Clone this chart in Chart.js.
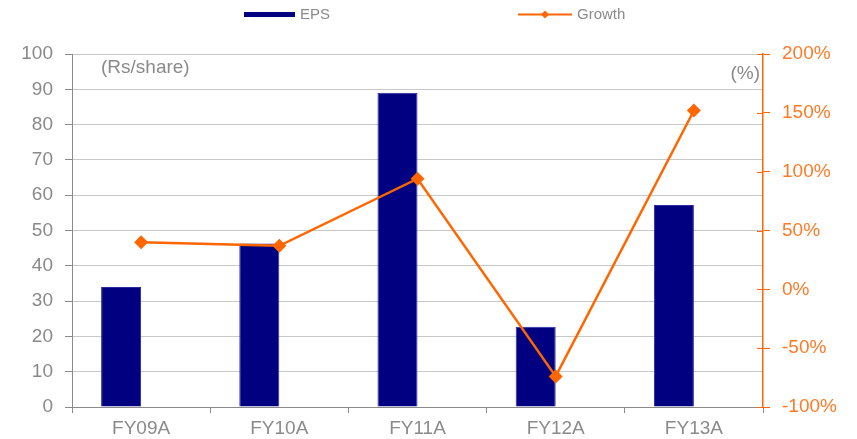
<!DOCTYPE html>
<html>
<head>
<meta charset="utf-8">
<script src="https://cdn.jsdelivr.net/npm/chart.js@4/dist/chart.umd.min.js"></script>
<style>
  html, body { margin: 0; padding: 0; background: #ffffff; }
  #wrap { width: 857px; height: 439px; position: relative; }
</style>
</head>
<body>
<div id="wrap"><canvas id="c"></canvas></div>
<script>
// ---- data ----
const categories = ['FY09A', 'FY10A', 'FY11A', 'FY12A', 'FY13A'];
const epsValues = [34, 46.3, 89, 22.7, 57.2];          // Rs/share
const growthValues = [40, 37, 94, -74, 152];           // %
const epsAxisRange = [0, 100, 10];                     // min, max, step
const growthAxisRange = [-100, 200, 50];               // min, max, step
const seriesNames = ['EPS', 'Growth'];
const leftUnit = '(Rs/share)';
const rightUnit = '(%)';

// ---- styles ----
const FONT = "'Liberation Sans', Arial, sans-serif";
const GREY = '#8a8a8a';
const GRID = '#c8c8c8';
const NAVY = '#000080';
const ORANGE = '#ff6600';
const ORANGE_TXT = '#ff7a26';

const extras = {
  id: 'extras',
  afterDraw(chart) {
    const ctx = chart.ctx;
    const area = chart.chartArea;
    const y2 = chart.scales.y2;
    ctx.save();
    // inner half of right-axis tick marks (they cross the axis)
    ctx.strokeStyle = ORANGE;
    ctx.lineWidth = 1;
    y2.ticks.forEach(t => {
      const py = Math.round(y2.getPixelForValue(t.value)) + 0.5;
      ctx.beginPath();
      ctx.moveTo(area.right - 6, py);
      ctx.lineTo(area.right, py);
      ctx.stroke();
    });
    // unit annotations
    ctx.font = '19px ' + FONT;
    ctx.fillStyle = GREY;
    ctx.textBaseline = 'middle';
    ctx.textAlign = 'left';
    ctx.fillText(leftUnit, area.left + 29, area.top + 14);
    ctx.textAlign = 'right';
    ctx.fillText(rightUnit, area.right - 3, area.top + 20);
    // legend
    ctx.font = '15px ' + FONT;
    ctx.textAlign = 'left';
    ctx.fillStyle = NAVY;
    ctx.fillRect(244, 12, 51, 5);
    ctx.fillStyle = GREY;
    ctx.fillText(seriesNames[0], 300, 15);
    ctx.strokeStyle = ORANGE;
    ctx.lineWidth = 2;
    ctx.beginPath();
    ctx.moveTo(518, 14.5);
    ctx.lineTo(572, 14.5);
    ctx.stroke();
    ctx.fillStyle = ORANGE;
    ctx.beginPath();
    ctx.moveTo(545, 10.5);
    ctx.lineTo(549, 14.5);
    ctx.lineTo(545, 18.5);
    ctx.lineTo(541, 14.5);
    ctx.closePath();
    ctx.fill();
    ctx.fillStyle = GREY;
    ctx.fillText(seriesNames[1], 577, 15);
    ctx.restore();
  }
};

new Chart(document.getElementById('c'), {
  data: {
    labels: categories,
    datasets: [
      {
        type: 'line',
        label: seriesNames[1],
        data: growthValues,
        yAxisID: 'y2',
        borderColor: ORANGE,
        backgroundColor: ORANGE,
        borderWidth: 2.5,
        pointStyle: 'rectRot',
        pointRadius: 7,
        pointBorderWidth: 0,
        pointBackgroundColor: ORANGE,
        tension: 0,
        order: 1
      },
      {
        type: 'bar',
        label: seriesNames[0],
        data: epsValues,
        yAxisID: 'y',
        backgroundColor: NAVY,
        borderColor: '#2a2aa0',
        borderWidth: 1,
        categoryPercentage: 0.579,
        barPercentage: 1.0,
        order: 2
      },
      {
        type: 'bar',
        label: '',
        data: [],
        yAxisID: 'y',
        backgroundColor: 'rgba(0,0,0,0)',
        categoryPercentage: 0.579,
        barPercentage: 1.0,
        order: 3
      }
    ]
  },
  options: {
    responsive: true,
    maintainAspectRatio: false,
    animation: false,
    layout: { padding: { top: 54, left: 0, right: 0, bottom: 0 } },
    plugins: {
      legend: { display: false },
      tooltip: { enabled: false }
    },
    scales: {
      x: {
        type: 'category',
        offset: true,
        grid: { offset: true, drawOnChartArea: false, color: GREY, tickLength: 6 },
        border: { color: GREY, width: 1 },
        ticks: { color: GREY, font: { family: FONT, size: 19 }, padding: 4, maxRotation: 0 },
        afterFit(s) { s.height = 32; }
      },
      y: {
        position: 'left',
        min: epsAxisRange[0],
        max: epsAxisRange[1],
        ticks: { stepSize: epsAxisRange[2], color: GREY, font: { family: FONT, size: 19 }, padding: 12 },
        grid: { color: GRID, tickColor: GREY, tickLength: 7, lineWidth: 1 },
        border: { color: GREY, width: 1 },
        afterFit(s) { s.width = 72; }
      },
      y2: {
        position: 'right',
        min: growthAxisRange[0],
        max: growthAxisRange[1],
        ticks: {
          stepSize: growthAxisRange[2],
          color: ORANGE_TXT,
          font: { family: FONT, size: 19 },
          padding: 12,
          callback: v => v + '%'
        },
        grid: { drawOnChartArea: false, tickColor: ORANGE, tickLength: 7 },
        border: { color: ORANGE, width: 1.5 },
        afterFit(s) { s.width = 94; }
      }
    }
  },
  plugins: [extras]
});
</script>
</body>
</html>
